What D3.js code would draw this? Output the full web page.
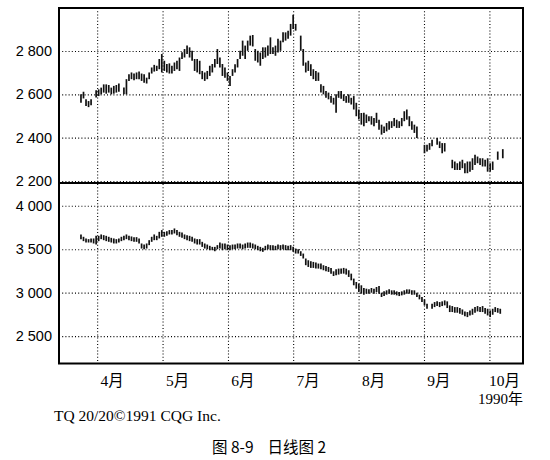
<!DOCTYPE html>
<html><head><meta charset="utf-8">
<script src="https://cdn.jsdelivr.net/npm/d3@7"></script>
<style>body{margin:0;background:#fff}svg{display:block}</style>
</head><body><svg id="c" width="550" height="460"></svg>
<script>
const monthLabels = ["4月","5月","6月","7月","8月","9月","10月"];
const monthPos = [6.6, 32.5, 58.4, 84.2, 110.1, 136.0, 161.9];
const topTicks = [2200, 2400, 2600, 2800];
const botTicks = [2500, 3000, 3500, 4000];

const topHi = [2600,2612,2577,2569,2577,null,2619,2623,2631,2646,
2646,2643,2631,2639,2643,2650,null,2631,2670,2693,
2701,2696,2701,2705,2696,2693,2677,2701,2724,2736,
2732,2763,2786,2755,2740,2743,2732,2747,2755,2770,
2794,2809,2825,2817,2801,2763,2763,2755,2708,2701,
2708,2732,2740,2763,2809,2770,2740,2724,2701,2685,
2716,2739,2763,2801,2848,2825,2848,2871,2874,2809,
2801,2793,2817,2817,2825,2863,2817,2825,2856,2848,
2886,2886,2894,2925,2967,2925,null,2871,2809,2747,
2755,2739,2716,2708,2701,2646,2639,2615,2608,2592,
2584,2600,2615,2615,2600,2592,2600,2584,2592,2561,
2530,2514,2515,2507,2499,2499,2491,2515,2483,2460,
2452,2468,2476,2476,2491,2483,2476,2491,2522,2530,
2499,2476,2460,2452,null,null,2367,2367,2375,2390,
null,2398,2383,2375,2375,null,null,2298,2290,2282,
2290,2298,2282,2290,2290,2305,2321,2313,2305,2305,
2298,2305,2282,2290,null,2336,null,2347];
const topLo = [2561,2581,2546,2541,2550,null,2585,2592,2600,2608,
2603,2608,2600,2603,2608,2612,null,2600,2600,2662,
2670,2665,2670,2670,2662,2654,2650,2670,2696,2705,
2708,2716,2701,2708,2701,2696,2696,2708,2716,2708,
2763,2770,2786,2770,2755,2708,2701,2693,2670,2662,
2670,2685,2701,2724,2740,2724,2685,2677,2662,2639,
2685,2701,2724,2763,2778,2763,2801,2825,2821,2755,
2747,2732,2763,2770,2778,2786,2786,2778,2793,2801,
2840,2848,2856,2871,2902,2894,null,2801,2732,2701,
2708,2685,2670,2662,2662,2608,2600,2584,2577,2561,
2553,2515,2584,2580,2569,2561,2561,2553,2530,2499,
2484,2460,2453,2468,2476,2460,2453,2468,2437,2414,
2422,2429,2437,2445,2453,2445,2445,2453,2476,2483,
2453,2437,2422,2398,null,null,2328,2336,2344,2360,
null,2367,2352,2328,2336,null,null,2259,2251,2251,
2251,2259,2236,2236,2243,2251,2274,2282,2274,2267,
2267,2243,2243,2251,null,2298,null,2305];

const botHi = [3670,3643,3624,3616,3624,3624,3654,3654,3670,3662,
3654,3643,3631,3624,3616,3624,3643,3654,3670,3654,
3647,3639,3639,3624,3566,3554,3566,3604,3643,3670,
3654,3700,3720,3700,3708,3720,3720,3739,3720,3700,
3693,3670,3662,3654,3643,3624,3616,3616,3585,3566,
3554,3539,3527,3527,3547,3577,3566,3566,3554,3547,
3554,3554,3566,3566,3554,3566,3577,3577,3566,3554,
3539,3527,3516,3539,3554,3547,3547,3539,3554,3547,
3554,3547,3539,3547,3527,3508,3500,3477,3450,3393,
3373,3362,3354,3346,3335,3335,3316,3308,3296,3285,
3246,3269,3277,3277,3285,3277,3258,3219,3162,3123,
3104,3085,3054,3046,3038,3054,3046,3065,3077,3000,
3015,3027,3038,3027,3027,3015,3008,3015,3027,3038,
3038,3027,3027,3000,2977,2950,2923,2873,null,2873,
2892,2900,2892,2900,2911,2900,2854,2846,2834,2834,
2823,2807,2784,2777,2796,2815,2834,2846,2834,2846,
2823,2815,2796,2815,2834,2823,2815];
const botLo = [3616,3593,3577,3577,3577,3566,3554,3593,3616,3604,
3593,3585,3577,3566,3566,3577,3593,3604,3616,3604,
3593,3585,3585,3566,3508,3500,3508,3547,3585,3604,
3604,3624,3643,3643,3654,3670,3670,3681,3662,3643,
3631,3616,3604,3593,3585,3566,3554,3554,3527,3508,
3500,3489,3489,3477,3500,3508,3489,3500,3489,3489,
3500,3500,3508,3508,3500,3508,3516,3516,3508,3500,
3489,3477,3470,3489,3500,3489,3489,3489,3500,3489,
3500,3489,3489,3489,3470,3450,3450,3423,3393,3316,
3296,3285,3285,3277,3277,3269,3258,3246,3239,3219,
3192,3200,3208,3219,3219,3208,3181,3142,3085,3046,
3008,2988,2977,2988,2988,3000,2988,3008,2988,2950,
2961,2977,2988,2977,2977,2969,2961,2969,2977,2988,
2988,2977,2977,2950,2923,2892,2854,2815,null,2815,
2834,2846,2834,2846,2854,2823,2777,2777,2769,2769,
2757,2746,2730,2719,2738,2746,2769,2784,2777,2777,
2757,2738,2719,2746,2777,2769,2757];

const svg = d3.select("#c");
const L = 59, R = 523, T = 8, M = 183, B = 363.5;
const x = d3.scaleLinear().domain([-8.7, 175]).range([L, R]);
const yTop = d3.scaleLinear().domain([2190.8, 2998.5]).range([M, T]);
const yBot = d3.scaleLinear().domain([2185, 4262]).range([B, M]);
const fmt = d3.formatLocale({decimal: ".", thousands: " ", grouping: [3], currency: ["", ""]}).format(",d");

const numFont = "'Liberation Sans', Arial, sans-serif";
const serifFont = "'Liberation Serif', 'Times New Roman', 'Noto Sans CJK SC', serif";

svg.append("g").selectAll("line").data(monthPos).join("line")
  .attr("x1", d => x(d)).attr("x2", d => x(d))
  .attr("y1", T).attr("y2", B)
  .attr("stroke", "#000").attr("stroke-width", 1.1).attr("stroke-dasharray", "1,2.2");

function yAxis(scale, ticks) {
  const g = svg.append("g").attr("transform", `translate(${L},0)`)
    .call(d3.axisLeft(scale).tickValues(ticks).tickSize(-(R - L)).tickPadding(7).tickFormat(fmt));
  g.select(".domain").remove();
  g.selectAll(".tick line").attr("stroke", "#000").attr("stroke-width", 1.1).attr("stroke-dasharray", "1,2.2");
  g.selectAll(".tick text").attr("font-family", numFont).attr("font-size", 14.5).attr("fill", "#000");
}
yAxis(yTop, topTicks);
yAxis(yBot, botTicks);

function bars(hi, lo, scale) {
  const idx = d3.range(hi.length).filter(i => hi[i] != null && lo[i] != null);
  svg.append("g").selectAll("line").data(idx).join("line")
    .attr("x1", i => x(i)).attr("x2", i => x(i))
    .attr("y1", i => scale(hi[i])).attr("y2", i => scale(lo[i]))
    .attr("stroke", "#111").attr("stroke-width", 1.7);
}
bars(topHi, topLo, yTop);
bars(botHi, botLo, yBot);

svg.append("rect").attr("x", L).attr("y", T).attr("width", R - L).attr("height", B - T)
  .attr("fill", "none").attr("stroke", "#000").attr("stroke-width", 2);
svg.append("line").attr("x1", L).attr("x2", R).attr("y1", M).attr("y2", M)
  .attr("stroke", "#000").attr("stroke-width", 2);

const xa = svg.append("g").attr("transform", `translate(0,${B})`)
  .call(d3.axisBottom(x).tickValues(monthPos).tickSize(0).tickPadding(11)
    .tickFormat((d, i) => monthLabels[i]));
xa.select(".domain").remove();
xa.selectAll(".tick text").attr("dx", 14).attr("font-family", serifFont).attr("font-size", 15.5).attr("fill", "#000");

svg.append("text").attr("x", R).attr("y", 404).attr("text-anchor", "end")
  .attr("font-family", serifFont).attr("font-size", 15).text("1990年");
svg.append("text").attr("x", 54).attr("y", 421)
  .attr("font-family", serifFont).attr("font-size", 15.5).text("TQ 20/20©1991 CQG Inc.");
svg.append("text").attr("x", 269).attr("y", 453).attr("text-anchor", "middle")
  .attr("font-family", "'Noto Sans CJK SC', sans-serif").attr("font-size", 15.5)
  .attr("xml:space", "preserve").text("图 8-9    日线图 2");
</script></body></html>
